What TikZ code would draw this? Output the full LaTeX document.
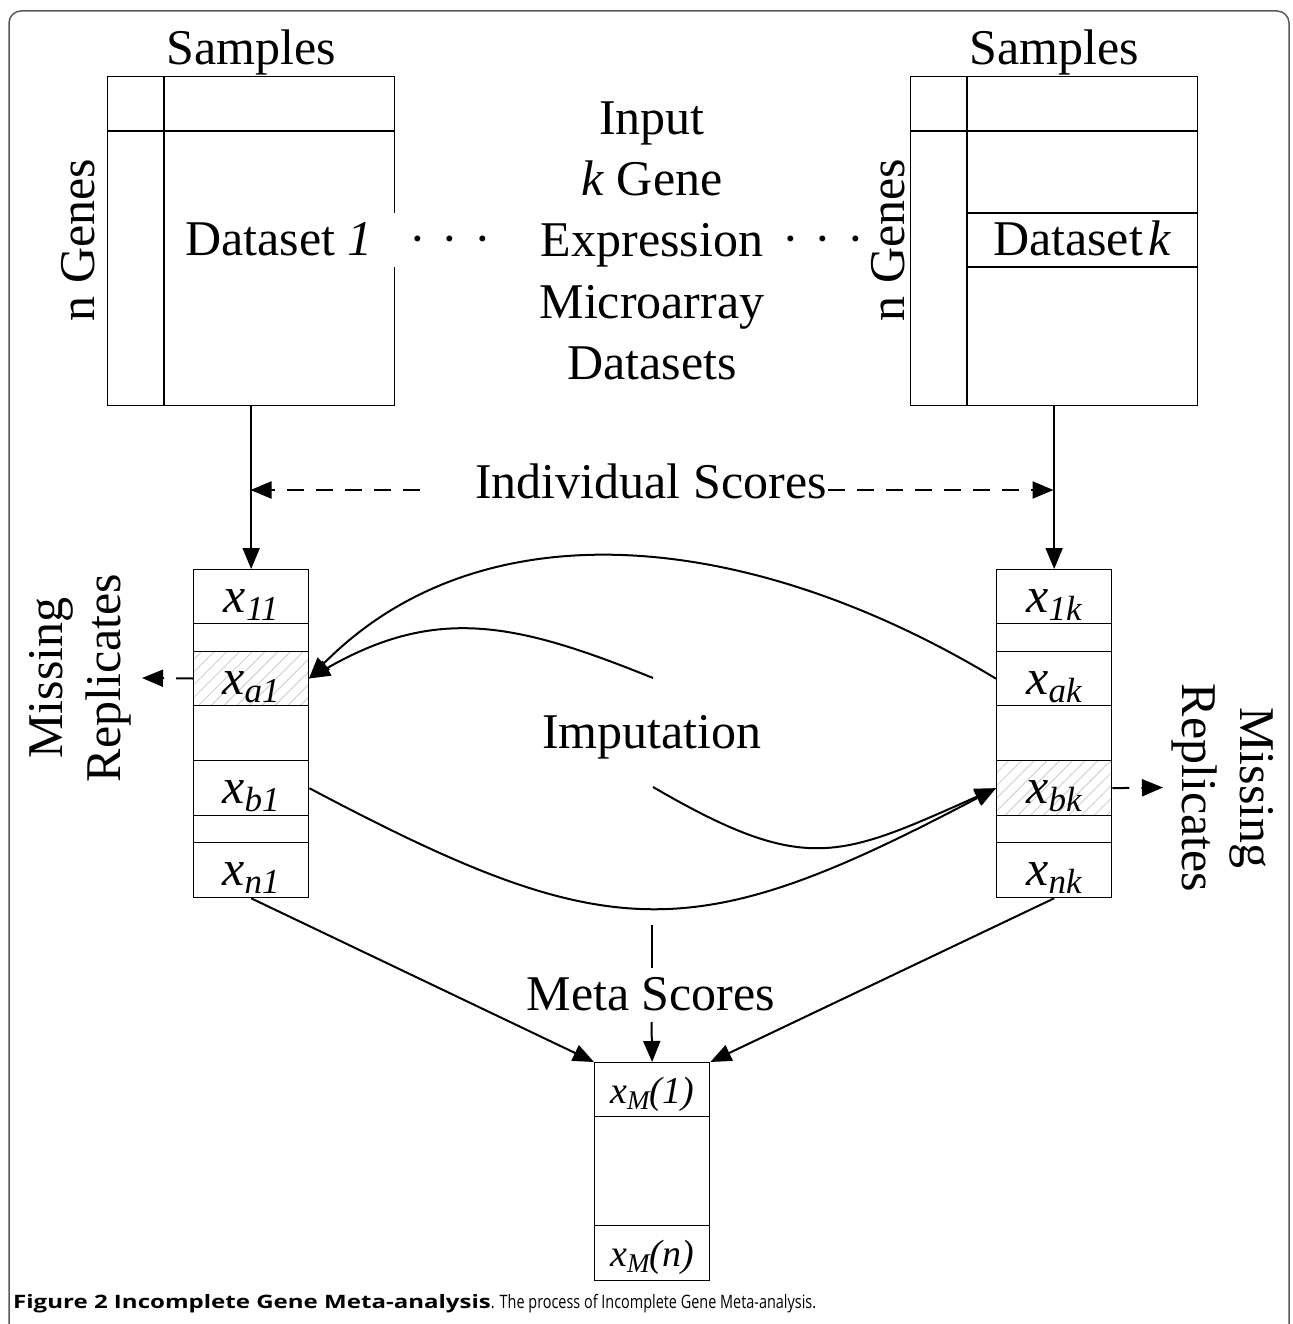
\documentclass[tikz,border=0pt]{standalone}
\usepackage{fontspec}
\setmainfont{Liberation Serif}
\newfontfamily\capfont{Open Sans}
\usetikzlibrary{arrows.meta,patterns.meta,calc}
\newcommand\sbs[1]{\raisebox{-8pt}{\fontsize{35}{40}\selectfont #1}}
\newcommand\sbm[1]{\raisebox{-6pt}{\fontsize{27}{30}\selectfont #1}}
\begin{document}
\begin{tikzpicture}[x=1pt,y=-1pt,
  big/.style={font=\fontsize{50}{58}\selectfont, inner sep=0pt},
  bigb/.style={big, anchor=base},
  box/.style={draw, line width=1.3pt, inner sep=0pt, anchor=north west},
  cell/.style={draw, line width=1.3pt, inner sep=0pt, minimum width=115pt, anchor=north west},
  hatch/.style={pattern={Lines[angle=45,distance=9pt,line width=1pt]}, pattern color=gray!35},
  arr/.style={line width=2pt, -{Triangle[length=21pt,width=17pt]}},
  darr/.style={arr, dash pattern=on 17pt off 12pt},
  ctext/.style={font=\fontsize{50}{60}\selectfont\itshape, anchor=base, inner sep=0pt},
  mtext/.style={font=\fontsize{38}{44}\selectfont\itshape, anchor=base, inner sep=0pt},
]
\useasboundingbox (0,0) rectangle (1292,1324);
% frame
\draw[line width=1.5pt, black!65, rounded corners=12pt] (9,1340) -- (9,11) -- (1289,11) -- (1289,1340);

% dataset boxes
\node[box, minimum width=287pt, minimum height=329pt] (d1) at (107,76) {};
\draw[line width=1.3pt] (164,76) -- (164,405);
\draw[line width=1.3pt] (107,131) -- (394,131);
\draw[white, line width=3pt] (394,213) -- (394,267);
\node[box, minimum width=287pt, minimum height=329pt] (dk) at (910,76) {};
\draw[line width=1.3pt] (967,76) -- (967,405);
\draw[line width=1.3pt] (910,131) -- (1197,131);
\draw[line width=1.3pt] (967,213) -- (1197,213);
\draw[line width=1.3pt] (967,267) -- (1197,267);

\node[bigb] (s1) at (251,65) {Samples};
\node[bigb] (s2) at (1054,65) {Samples};
\node[big, rotate=90] (g1) at (78,240) {n Genes};
\node[big, rotate=90] (g2) at (888,240) {n Genes};
\node[bigb] (ds1) at (279,255) {Dataset \textit{1}};
\node[bigb] (dsk) at (1082,255) {Dataset\hspace{5pt}\textit{k}};
\node[bigb] (dl) at (450,255) {·\hspace{16pt}·\hspace{16pt}·};
\node[bigb] (dr) at (823,255) {·\hspace{16pt}·\hspace{16pt}·};

\node[bigb] (t1) at (652,135) {Input};
\node[bigb] (t2) at (652,196) {\textit{k} Gene};
\node[bigb] (t3) at (652,257) {Expression};
\node[bigb] (t4) at (652,318) {Microarray};
\node[bigb] (t5) at (652,379) {Datasets};

% left column
\node[cell, minimum height=54pt] (L1) at (193,569) {};
\node[cell, minimum height=28pt] (L2) at (193,623) {};
\node[cell, hatch, minimum height=54pt] (L3) at (193,651) {};
\node[cell, minimum height=55pt] (L4) at (193,705) {};
\node[cell, minimum height=55pt] (L5) at (193,760) {};
\node[cell, minimum height=27pt] (L6) at (193,815) {};
\node[cell, minimum height=55pt] (L7) at (193,842) {};
% right column
\node[cell, minimum height=54pt] (R1) at (996,569) {};
\node[cell, minimum height=28pt] (R2) at (996,623) {};
\node[cell, minimum height=54pt] (R3) at (996,651) {};
\node[cell, minimum height=55pt] (R4) at (996,705) {};
\node[cell, hatch, minimum height=55pt] (R5) at (996,760) {};
\node[cell, minimum height=27pt] (R6) at (996,815) {};
\node[cell, minimum height=55pt] (R7) at (996,842) {};
% meta column
\node[cell, minimum height=54pt] (M1) at (594,1062) {};
\node[cell, minimum height=109pt] (M2) at (594,1116) {};
\node[cell, minimum height=55pt] (M3) at (594,1225) {};

\node[ctext] at ($(L1.north)+(0,43)$) {x\sbs{11}};
\node[ctext] at ($(L3.north)+(0,43)$) {x\sbs{a1}};
\node[ctext] at ($(L5.north)+(0,43)$) {x\sbs{b1}};
\node[ctext] at ($(L7.north)+(0,43)$) {x\sbs{n1}};
\node[ctext] at ($(R1.north)+(0,43)$) {x\sbs{1k}};
\node[ctext] at ($(R3.north)+(0,43)$) {x\sbs{ak}};
\node[ctext] at ($(R5.north)+(0,43)$) {x\sbs{bk}};
\node[ctext] at ($(R7.north)+(0,43)$) {x\sbs{nk}};
\node[mtext] at ($(M1.north)+(0,41)$) {x\sbm{M}(1)};
\node[mtext] at ($(M3.north)+(0,41)$) {x\sbm{M}(n)};

% vertical arrows
\draw[arr] (d1.south) -- (L1.north);
\draw[arr] (dk.south) -- (R1.north);

% individual scores
\node[bigb] (is) at (651,498) {Individual Scores};
\coordinate (isa) at (420,490);
\coordinate (isl) at (250.5,490);
\coordinate (isb) at (828,490);
\coordinate (isr) at (1053.5,490);
\draw[darr] (isa) -- (isl);
\draw[darr] (isb) -- (isr);

% missing replicates
\node[big, rotate=90, align=center] (mrl) at (80,678) {Missing\\Replicates};
\node[big, rotate=-90, align=center] (mrr) at (1223,788) {Missing\\Replicates};
\coordinate (mlt) at (142,678);
\coordinate (mrt) at (1163,787.5);
\draw[darr] (L3.west) -- (mlt);
\draw[darr] (R5.east) -- (mrt);

% imputation
\node[bigb] (imp) at (652,748) {Imputation};
\coordinate (im1) at (653,678);
\coordinate (im2) at (653,787);
\draw[arr] (R3.west) .. controls (750,530) and (482,503) .. (L3.east);
\draw[arr] (im1) .. controls (517,623) and (437,605) .. (L3.east);
\draw[arr] (L5.east) .. controls (611,948) and (693,948) .. (R5.west);
\draw[arr] (im2) .. controls (806,876) and (839,858) .. (R5.west);

% meta scores
\node[bigb] (ms) at (651,1010) {Meta Scores};
\coordinate (ms1) at (651.5,925);
\coordinate (ms2) at (651.5,968);
\coordinate (ms3) at (651.5,1022);
\draw[line width=2pt] (ms1) -- (ms2);
\draw[arr] (ms3) -- (M1.north);
\draw[arr] (L7.south) -- (M1.north west);
\draw[arr] (R7.south) -- (M1.north east);

% caption
\node[anchor=base west, inner sep=0pt, font=\capfont\fontsize{18.5}{20}\selectfont] (cap) at (13,1308)
  {\scalebox{1.3}[1]{\textbf{Figure 2 Incomplete Gene Meta-analysis}}\scalebox{0.78}[1]{. The process of Incomplete Gene Meta-analysis.}};
\end{tikzpicture}
\end{document}
